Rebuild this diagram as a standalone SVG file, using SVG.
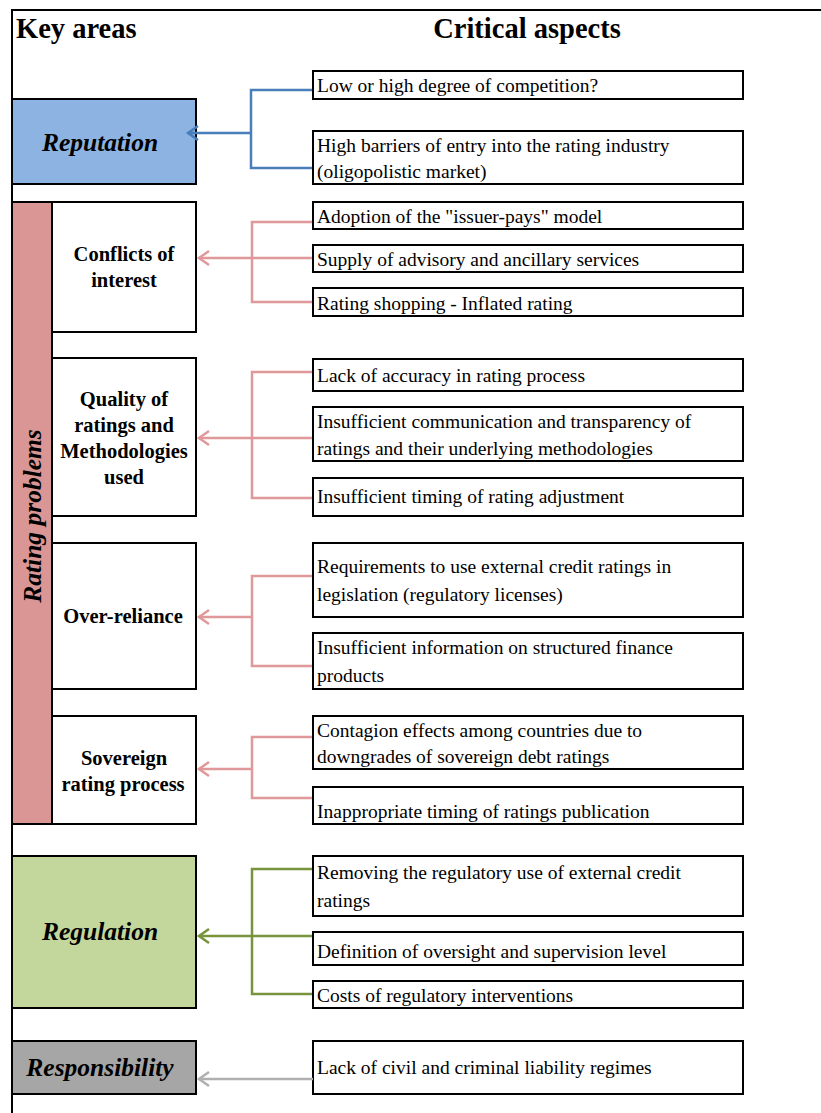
<svg xmlns="http://www.w3.org/2000/svg" width="821" height="1113" viewBox="0 0 821 1113">
<style>
.box{fill:#fff;stroke:#000;stroke-width:2}
.t{font-family:"Liberation Serif","Times New Roman",serif;font-size:19.5px;fill:#000}
.h{font-family:"Liberation Serif","Times New Roman",serif;font-size:28.5px;font-weight:bold;fill:#000}
.kb{font-family:"Liberation Serif","Times New Roman",serif;font-size:20.5px;font-weight:bold;fill:#000;text-anchor:middle}
.ki{font-family:"Liberation Serif","Times New Roman",serif;font-size:25.5px;font-weight:bold;font-style:italic;fill:#000;text-anchor:middle}
.c{fill:none;stroke-width:2.5}
.blue{stroke:#4a7ebb}
.pink{stroke:#e0999a}
.green{stroke:#77933c}
.gray{stroke:#b0b0b0}
</style>
<defs>
<marker id="aB" markerUnits="userSpaceOnUse" markerWidth="14" markerHeight="20" refX="11" refY="8" orient="auto" viewBox="0 0 14 16"><path d="M1,1 L11,8 L1,15" fill="none" stroke="#4a7ebb" stroke-width="2.5"/></marker>
<marker id="aP" markerUnits="userSpaceOnUse" markerWidth="14" markerHeight="20" refX="11" refY="8" orient="auto" viewBox="0 0 14 16"><path d="M1,1 L11,8 L1,15" fill="none" stroke="#e0999a" stroke-width="2.5"/></marker>
<marker id="aG" markerUnits="userSpaceOnUse" markerWidth="14" markerHeight="20" refX="11" refY="8" orient="auto" viewBox="0 0 14 16"><path d="M1,1 L11,8 L1,15" fill="none" stroke="#77933c" stroke-width="2.5"/></marker>
<marker id="aY" markerUnits="userSpaceOnUse" markerWidth="14" markerHeight="20" refX="11" refY="8" orient="auto" viewBox="0 0 14 16"><path d="M1,1 L11,8 L1,15" fill="none" stroke="#b0b0b0" stroke-width="2.5"/></marker>
</defs>
<rect width="821" height="1113" fill="#fff"/>
<g id="frame">
<path d="M12,1113 L12,10 L821,10" fill="none" stroke="#000" stroke-width="2"/>
<text class="h" x="16" y="38">Key areas</text>
<text class="h" x="527" y="38" text-anchor="middle">Critical aspects</text>
</g>
<g id="reputation">
<rect x="12" y="99" width="184" height="85" fill="#8db3e2" stroke="#000" stroke-width="2"/>
<text class="ki" x="100" y="151">Reputation</text>
</g>
<g id="rating-problems">
<rect x="12" y="202" width="40" height="622" fill="#d99694" stroke="#000" stroke-width="2"/>
<text class="ki" transform="translate(41,516) rotate(-90)" x="0" y="0">Rating problems</text>
</g>
<g id="conflicts">
<rect class="box" x="52" y="202" width="144" height="130"/>
<text class="kb" x="124" y="261">Conflicts of</text>
<text class="kb" x="124" y="287">interest</text>
</g>
<g id="quality">
<rect class="box" x="52" y="358" width="144" height="158"/>
<text class="kb" x="124" y="406">Quality of</text>
<text class="kb" x="124" y="432">ratings and</text>
<text class="kb" x="124" y="458">Methodologies</text>
<text class="kb" x="124" y="484">used</text>
</g>
<g id="over-reliance">
<rect class="box" x="52" y="543" width="144" height="146"/>
<text class="kb" x="123" y="623">Over-reliance</text>
</g>
<g id="sovereign">
<rect class="box" x="52" y="716" width="144" height="108"/>
<text class="kb" x="124" y="765">Sovereign</text>
<text class="kb" x="123" y="791">rating process</text>
</g>
<g id="regulation">
<rect x="12" y="856" width="184" height="152" fill="#c3d69b" stroke="#000" stroke-width="2"/>
<text class="ki" x="100" y="940">Regulation</text>
</g>
<g id="responsibility">
<rect x="12" y="1041" width="184" height="53" fill="#a6a6a6" stroke="#000" stroke-width="2"/>
<text class="ki" x="100" y="1076">Responsibility</text>
</g>
<g id="a1"><rect class="box" x="313" y="71" width="430" height="28"/><text class="t" x="317" y="92">Low or high degree of competition?</text></g>
<g id="a2"><rect class="box" x="313" y="131" width="430" height="53"/><text class="t" x="317" y="152">High barriers of entry into the rating industry</text><text class="t" x="317" y="178">(oligopolistic market)</text></g>
<g id="a3"><rect class="box" x="313" y="202" width="430" height="27"/><text class="t" x="317" y="223">Adoption of the "issuer-pays" model</text></g>
<g id="a4"><rect class="box" x="313" y="245" width="430" height="27"/><text class="t" x="317" y="266">Supply of advisory and ancillary services</text></g>
<g id="a5"><rect class="box" x="313" y="288" width="430" height="28"/><text class="t" x="317" y="310">Rating shopping - Inflated rating</text></g>
<g id="a6"><rect class="box" x="313" y="359" width="430" height="32"/><text class="t" x="317" y="382">Lack of accuracy in rating process</text></g>
<g id="a7"><rect class="box" x="313" y="407" width="430" height="54"/><text class="t" x="317" y="428">Insufficient communication and transparency of</text><text class="t" x="317" y="455">ratings and their underlying methodologies</text></g>
<g id="a8"><rect class="box" x="313" y="478" width="430" height="38"/><text class="t" x="317" y="503">Insufficient timing of rating adjustment</text></g>
<g id="a9"><rect class="box" x="313" y="543" width="430" height="74"/><text class="t" x="317" y="573">Requirements to use external credit ratings in</text><text class="t" x="317" y="601">legislation (regulatory licenses)</text></g>
<g id="a10"><rect class="box" x="313" y="633" width="430" height="56"/><text class="t" x="317" y="654">Insufficient information on structured finance</text><text class="t" x="317" y="682">products</text></g>
<g id="a11"><rect class="box" x="313" y="716" width="430" height="53"/><text class="t" x="317" y="737">Contagion effects among countries due to</text><text class="t" x="317" y="763">downgrades of sovereign debt ratings</text></g>
<g id="a12"><rect class="box" x="313" y="787" width="430" height="37"/><text class="t" x="317" y="818">Inappropriate timing of ratings publication</text></g>
<g id="a13"><rect class="box" x="313" y="856" width="430" height="60"/><text class="t" x="317" y="879">Removing the regulatory use of external credit</text><text class="t" x="317" y="907">ratings</text></g>
<g id="a14"><rect class="box" x="313" y="932" width="430" height="33"/><text class="t" x="317" y="958">Definition of oversight and supervision level</text></g>
<g id="a15"><rect class="box" x="313" y="981" width="430" height="27"/><text class="t" x="317" y="1002">Costs of regulatory interventions</text></g>
<g id="a16"><rect class="box" x="313" y="1041" width="430" height="53"/><text class="t" x="317" y="1074">Lack of civil and criminal liability regimes</text></g>
<g id="connectors">
<path class="c blue" d="M312,90 H251 V168 H312"/>
<line class="c blue" x1="251" y1="133" x2="188" y2="133" marker-end="url(#aB)"/>
<path class="c pink" d="M312,222 H252 V302 H312 M252,258 H312"/>
<line class="c pink" x1="252" y1="258" x2="199" y2="258" marker-end="url(#aP)"/>
<path class="c pink" d="M312,372 H252 V498 H312 M252,438 H312"/>
<line class="c pink" x1="252" y1="438" x2="199" y2="438" marker-end="url(#aP)"/>
<path class="c pink" d="M312,576 H252 V666 H312"/>
<line class="c pink" x1="252" y1="617" x2="199" y2="617" marker-end="url(#aP)"/>
<path class="c pink" d="M312,737 H252 V798 H312"/>
<line class="c pink" x1="252" y1="769" x2="199" y2="769" marker-end="url(#aP)"/>
<path class="c green" d="M312,869 H252 V994 H312 M252,936 H312"/>
<line class="c green" x1="252" y1="936" x2="199" y2="936" marker-end="url(#aG)"/>
<line class="c gray" x1="313" y1="1079" x2="199" y2="1079" marker-end="url(#aY)"/>
</g>
</svg>
